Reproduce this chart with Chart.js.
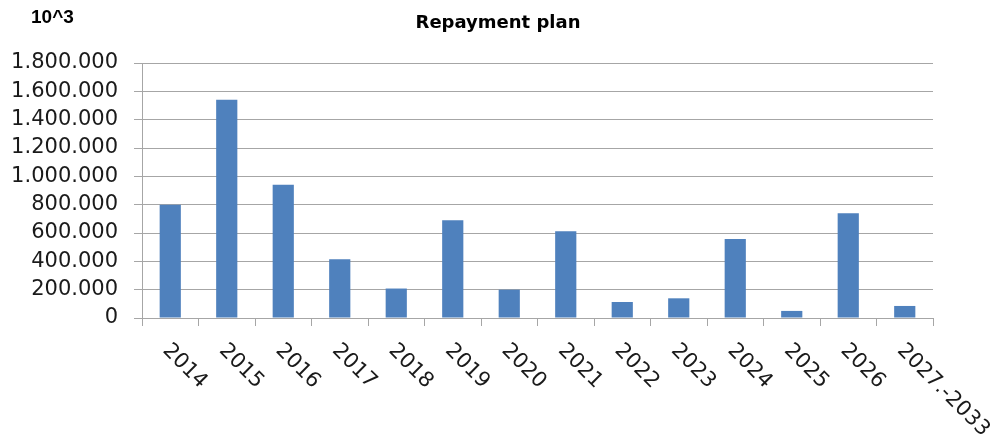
<!DOCTYPE html>
<html>
<head>
<meta charset="utf-8">
<script src="https://cdn.jsdelivr.net/npm/chart.js@4/dist/chart.umd.min.js"></script>
<style>
  html, body { margin: 0; padding: 0; background: #fff; }
  #wrap { width: 998px; height: 439px; position: relative; }
</style>
</head>
<body>
<div id="wrap"><canvas id="chart"></canvas></div>
<script>
// Data
const years = ['2014', '2015', '2016', '2017', '2018', '2019', '2020',
               '2021', '2022', '2023', '2024', '2025', '2026', '2027.-2033'];
const repayments = [800000, 1540000, 940000, 415000, 208000, 690000, 200000,
                    612000, 113000, 139000, 557000, 50000, 739000, 85000];
const yTicks = [0, 200000, 400000, 600000, 800000, 1000000, 1200000, 1400000, 1600000, 1800000];

const gridColor = '#a6a6a6';
const barColor = '#4f81bd';
const tickFont = { family: 'DejaVu Sans', size: 21 };

// dots as thousand separators, like 1.800.000
function dotFormat(v) {
    return String(v).replace(/\B(?=(\d{3})+(?!\d))/g, '.');
}

// Excel-style x labels: reading downwards to the right, starting under each category
const slantedLabels = {
    id: 'slantedLabels',
    afterDraw(chart) {
        const ctx = chart.ctx;
        const xs = chart.scales.x;
        ctx.save();
        ctx.font = tickFont.size + 'px ' + tickFont.family;
        ctx.fillStyle = '#1a1a1a';
        ctx.textAlign = 'left';
        ctx.textBaseline = 'top';
        years.forEach(function(label, i) {
            const x = xs.getPixelForValue(i);
            ctx.save();
            ctx.translate(x + 3, xs.bottom + 14);
            ctx.rotate(45 * Math.PI / 180);
            ctx.fillText(label, 0, 0);
            ctx.restore();
        });
        ctx.restore();
    }
};

// title and the "10^3" unit note, centred on the whole picture like the original
const headings = {
    id: 'headings',
    afterDraw(chart) {
        const ctx = chart.ctx;
        ctx.save();
        ctx.fillStyle = '#000';
        ctx.textBaseline = 'middle';
        ctx.font = 'bold 19px "Liberation Sans"';
        ctx.textAlign = 'left';
        ctx.fillText('10^3', 31, 18);
        ctx.font = 'bold 18px "DejaVu Sans"';
        ctx.textAlign = 'center';
        ctx.fillText('Repayment plan', 498, 23);
        ctx.restore();
    }
};

const ctx = document.getElementById('chart').getContext('2d');
new Chart(ctx, {
    type: 'bar',
    data: {
        labels: years,
        datasets: [{
            label: 'Repayment',
            data: repayments,
            backgroundColor: barColor,
            borderWidth: 0,
            categoryPercentage: 1,
            barPercentage: 0.375
        }]
    },
    options: {
        responsive: true,
        maintainAspectRatio: false,
        animation: false,
        layout: { padding: { left: 0, right: 65, top: 63, bottom: 113 } },
        plugins: {
            legend: { display: false },
            tooltip: { enabled: false },
            title: { display: false }
        },
        scales: {
            x: {
                ticks: { display: false },
                grid: {
                    offset: true,
                    drawOnChartArea: false,
                    drawTicks: true,
                    tickLength: 8,
                    color: gridColor
                },
                border: { display: true, color: gridColor }
            },
            y: {
                min: 0,
                max: 1800000,
                afterBuildTicks(scale) {
                    scale.ticks = yTicks.map(function(v) { return { value: v }; });
                },
                afterFit(scale) { scale.width = 142; },
                ticks: {
                    padding: 16,
                    color: '#1a1a1a',
                    font: tickFont,
                    callback: function(v) { return dotFormat(v); }
                },
                grid: {
                    color: gridColor,
                    tickLength: 8,
                    drawTicks: true
                },
                border: { display: true, color: gridColor }
            }
        }
    },
    plugins: [slantedLabels, headings]
});
</script>
</body>
</html>
